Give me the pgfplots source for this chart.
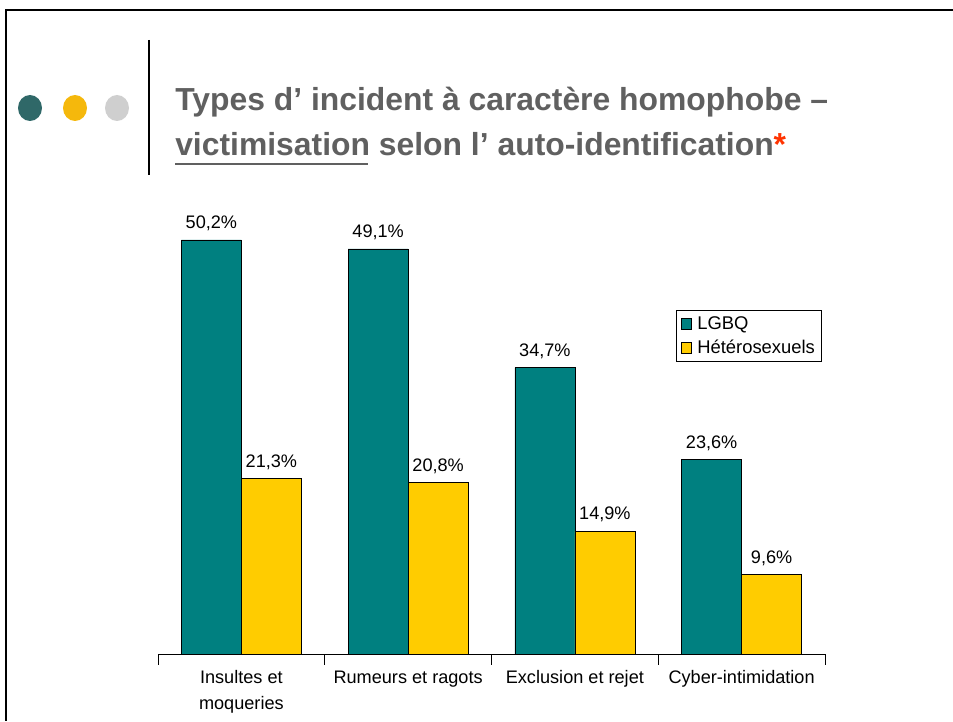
\documentclass[border=0pt]{standalone}
\usepackage{fontspec}
\setmainfont{Liberation Sans}
\usepackage{pgfplots}
\pgfplotsset{compat=1.18}
\definecolor{lgbq}{HTML}{008080}
\definecolor{hetero}{HTML}{FFCC00}
\definecolor{titlegray}{HTML}{606060}
\definecolor{dotteal}{HTML}{2F6868}
\definecolor{dotyellow}{HTML}{F5B80C}
\definecolor{dotgray}{HTML}{CFCFCF}
\definecolor{astred}{HTML}{FF3300}
\begin{document}
\begin{tikzpicture}[x=0.75pt,y=0.75pt]
\useasboundingbox (0,0) rectangle (953,721);
% slide frame
\draw[line width=2.2pt] (5,711) -- (953,711);
\draw[line width=2.2pt] (6,711) -- (6,0);
% dots
\fill[dotteal] (30,613) ellipse (12 and 13);
\fill[dotyellow] (75,613) ellipse (12 and 13);
\fill[dotgray] (117,613) ellipse (12 and 13);
% vertical bar
\draw[line width=2.2pt] (149,681) -- (149,546);
% title
\node[anchor=base west, inner sep=0pt, text=titlegray, font=\fontsize{23.9}{28}\selectfont\bfseries] at (175,610) {Types d’ incident à caractère homophobe –};
\node[anchor=base west, inner sep=0pt, text=titlegray, font=\fontsize{23.9}{28}\selectfont\bfseries] at (175,565) {victimisation selon l’ auto-identification\textcolor{astred}{*}};
\draw[titlegray, line width=1.4pt] (175,557) -- (368,557);
\begin{axis}[
  at={(118.5pt,50.25pt)}, anchor=south west,
  scale only axis,
  width=500.25pt, height=371.25pt,
  xmin=-0.5, xmax=3.5, ymin=0, ymax=60,
  axis x line*=bottom, axis y line=none,
  ybar=0pt, bar width=45pt,
  xtick={0,1,2,3},
  xticklabels={{Insultes et\\moqueries},{Rumeurs et ragots},{Exclusion et rejet},{Cyber-intimidation}},
  xticklabel style={align=center, font=\fontsize{13.6}{19}\selectfont, text depth=0pt, yshift=-9pt},
  major tick length=0pt,
  extra x ticks={-0.5,0.5,1.5,2.5,3.5},
  extra x tick labels={},
  extra x tick style={major tick length=8pt, tick align=outside, tick style={black, line width=0.6pt}},
  x axis line style={black, line width=0.6pt},
  /pgf/number format/assume math mode=true,
  nodes near coords={\pgfmathprintnumber[use comma,fixed,fixed zerofill,precision=1,assume math mode=true]{\pgfplotspointmeta}\%},
  every node near coord/.append style={font=\fontsize{13.6}{16}\selectfont, black, yshift=3pt},
  legend style={at={(0.777,0.695)}, anchor=north west, draw=black, line width=0.6pt, font=\fontsize{13.8}{16}\selectfont, inner xsep=3pt, inner ysep=2.5pt, row sep=2.5pt, cells={anchor=west},
    /tikz/every odd column/.append style={column sep=2pt}},
  legend image code/.code={\draw[#1, draw=black, line width=0.5pt] (0pt,-4pt) rectangle (8pt,4pt);},
  clip=false,
]
\addplot[fill=lgbq, draw=black, line width=0.5pt] coordinates {(0,50.2) (1,49.1) (2,34.7) (3,23.6)};
\addplot[fill=hetero, draw=black, line width=0.5pt] coordinates {(0,21.3) (1,20.8) (2,14.9) (3,9.6)};
\legend{LGBQ, Hétérosexuels}
\end{axis}
\end{tikzpicture}
\end{document}
